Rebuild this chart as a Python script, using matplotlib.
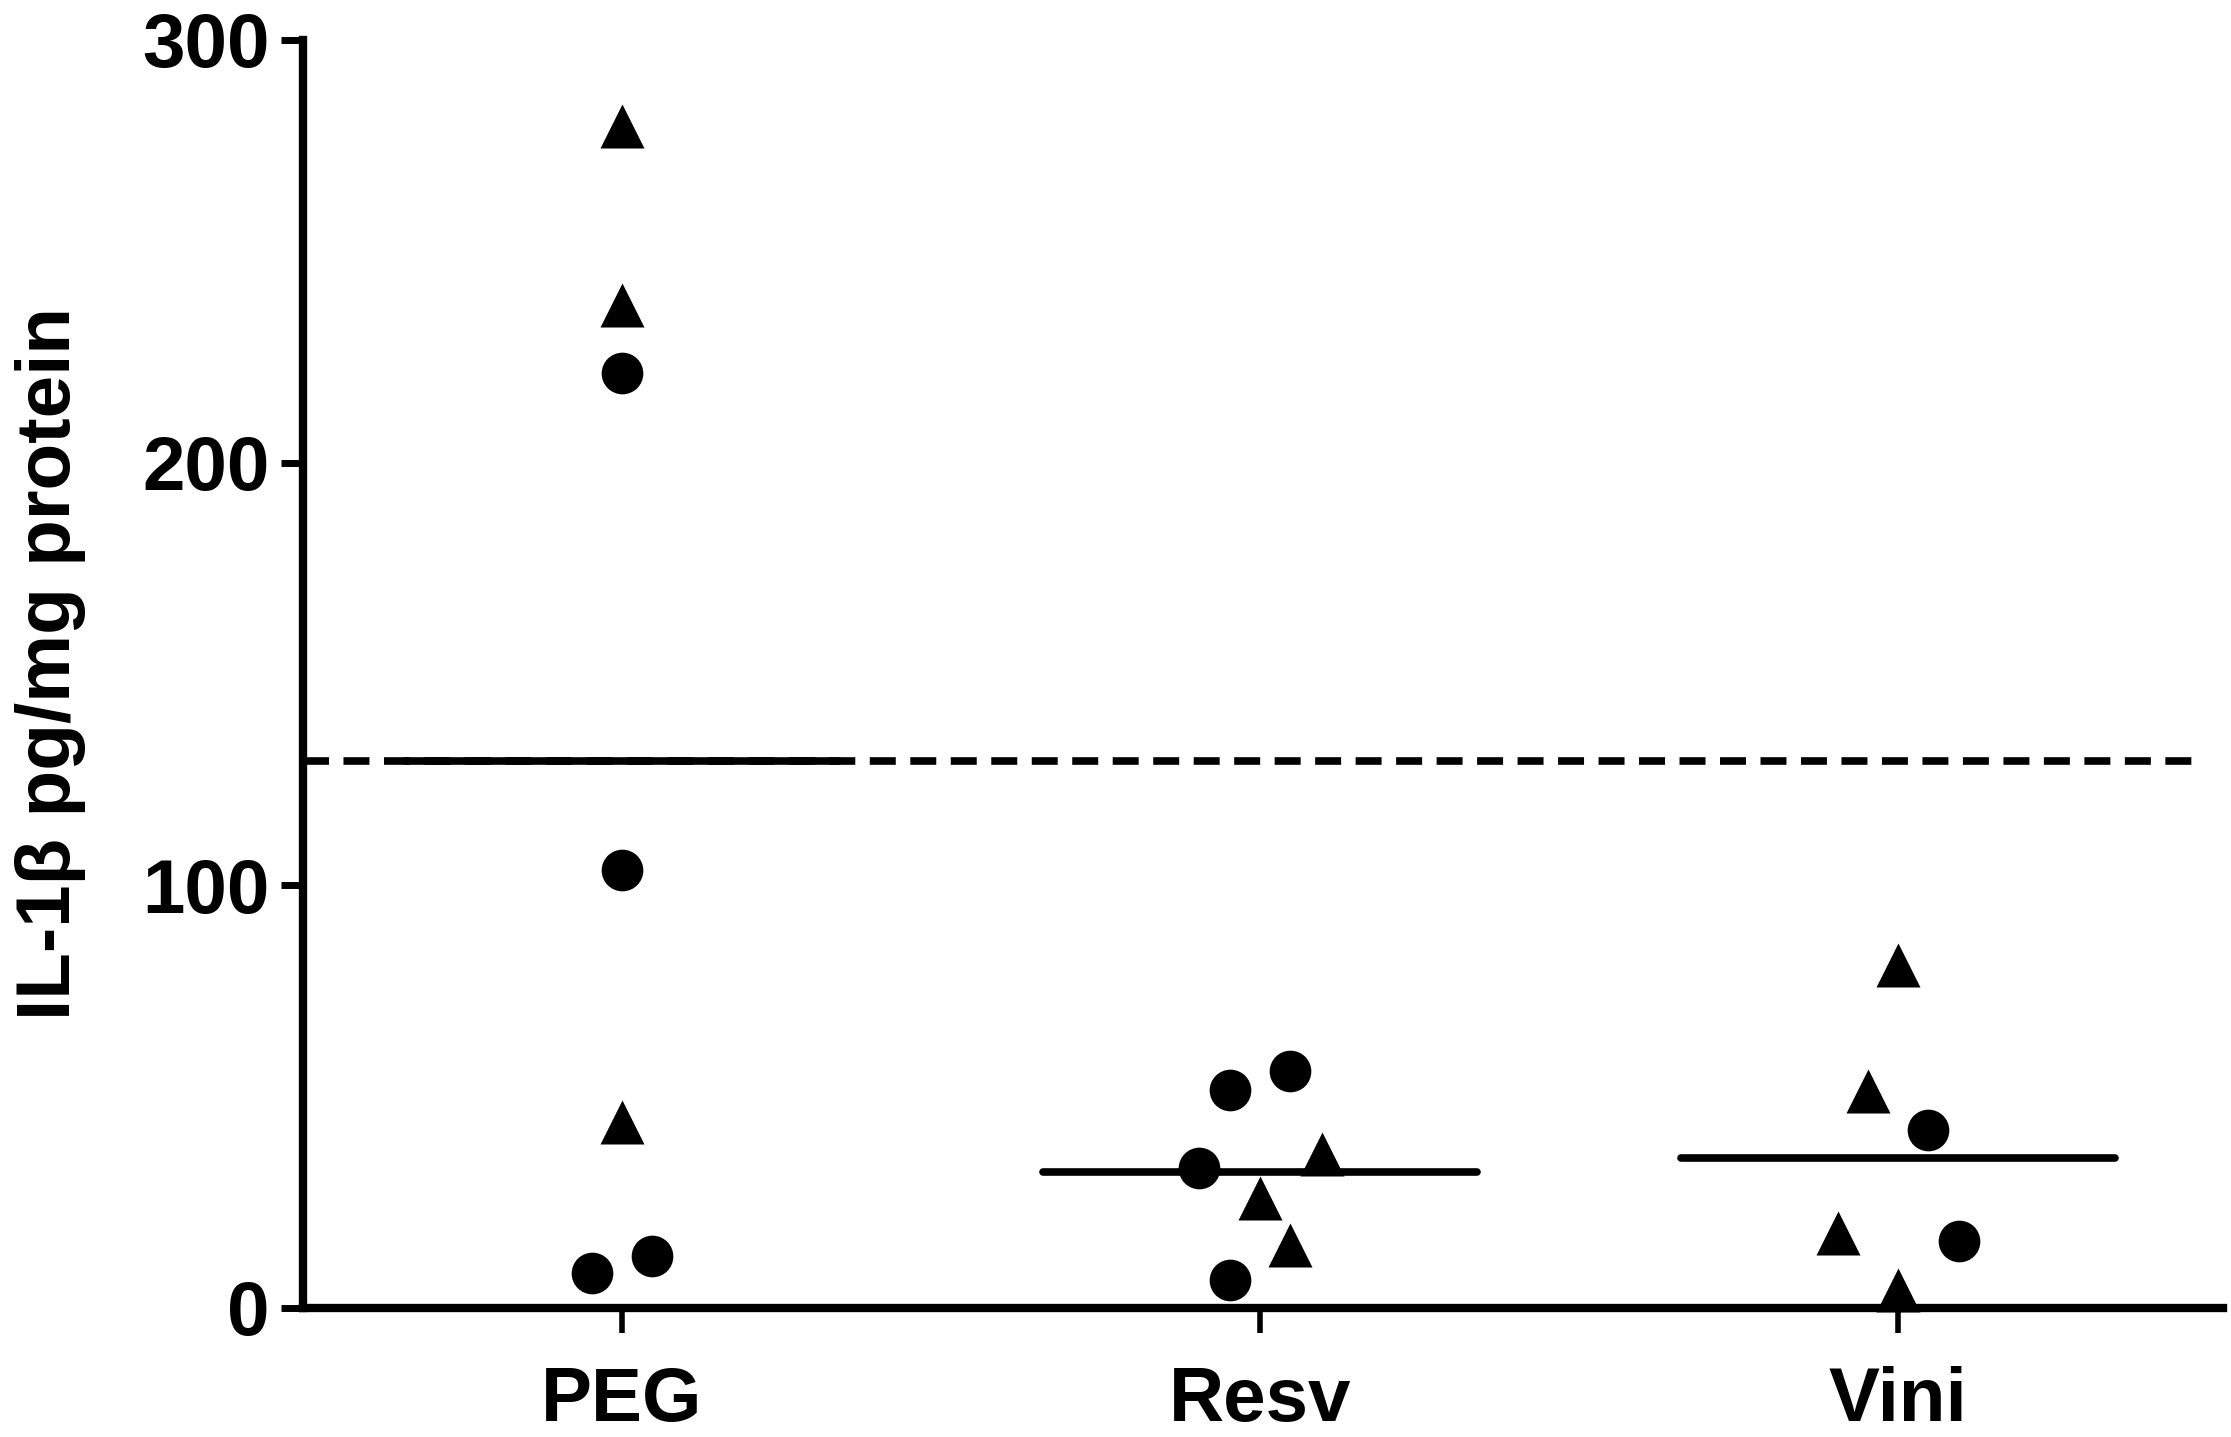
import numpy as np
import matplotlib.pyplot as plt

plt.rcParams['font.family'] = ['Liberation Sans', 'DejaVu Sans']
plt.rcParams['font.weight'] = 'bold'

# -------- data --------
groups = ['PEG', 'Resv', 'Vini']

circle_vals = [
    [221.1, 103.6, 8.2, 12.4],
    [51.6, 56.1, 33.1, 6.6],
    [42.1, 15.9],
]
circle_jitter = [
    [0.0, 0.0, -0.047, 0.047],
    [-0.047, 0.047, -0.096, -0.047],
    [0.047, 0.096],
]

tri_vals = [
    [279.7, 237.4, 44.1],
    [36.4, 26.0, 14.9],
    [81.2, 51.3, 17.7, 4.3],
]
tri_jitter = [
    [0.0, 0.0, 0.0],
    [0.097, 0.0, 0.047],
    [0.0, -0.047, -0.094, 0.0],
]

yticks = [0, 100, 200, 300]
ylabel = 'IL-1\u03b2 pg/mg protein'


def main():
    fig = plt.figure(figsize=(22.31, 14.37), dpi=100)
    ax = fig.add_axes([0.1358, 0.0898, 0.9964 - 0.1358, 0.9722 - 0.0898])

    pos = np.arange(1, len(groups) + 1)
    means = []
    for i, p in enumerate(pos):
        cx = p + np.array(circle_jitter[i])
        tx = p + np.array(tri_jitter[i])
        ax.plot(cx, circle_vals[i], 'o', color='black', ms=30,
                mec='none', clip_on=False, zorder=4)
        ax.plot(tx, tri_vals[i], '^', color='black', ms=31,
                mec='none', clip_on=False, zorder=4)
        m = np.mean(circle_vals[i] + tri_vals[i])
        means.append(m)
        ax.hlines(m, p - 0.34, p + 0.34, color='black', lw=5.5,
                  capstyle='round', zorder=3)

    # control (PEG) mean carried across as dashed reference
    ax.plot([0.5, 3.473], [means[0], means[0]], color='black', lw=5.5,
            dashes=(3.4, 1.9), solid_capstyle='butt', zorder=2)

    ax.set_xlim(0.5, 3.51)
    ax.set_ylim(0, 300)
    ax.set_xticks(pos)
    ax.set_xticklabels(groups)
    ax.set_yticks(yticks)

    for s in ['top', 'right']:
        ax.spines[s].set_visible(False)
    for s in ['left', 'bottom']:
        ax.spines[s].set_linewidth(6)
        ax.spines[s].set_capstyle('projecting')

    ax.tick_params(axis='y', length=16, width=5, pad=8, labelsize=55)
    ax.tick_params(axis='x', length=18, width=4, pad=24, labelsize=55)
    for lab in ax.get_xticklabels() + ax.get_yticklabels():
        lab.set_fontweight('bold')

    ax.set_ylabel(ylabel, fontsize=55, fontweight='bold')
    ax.yaxis.set_label_coords(-0.113, 0.508)

    fig.savefig('out.png', dpi=100)


if __name__ == '__main__':
    main()
